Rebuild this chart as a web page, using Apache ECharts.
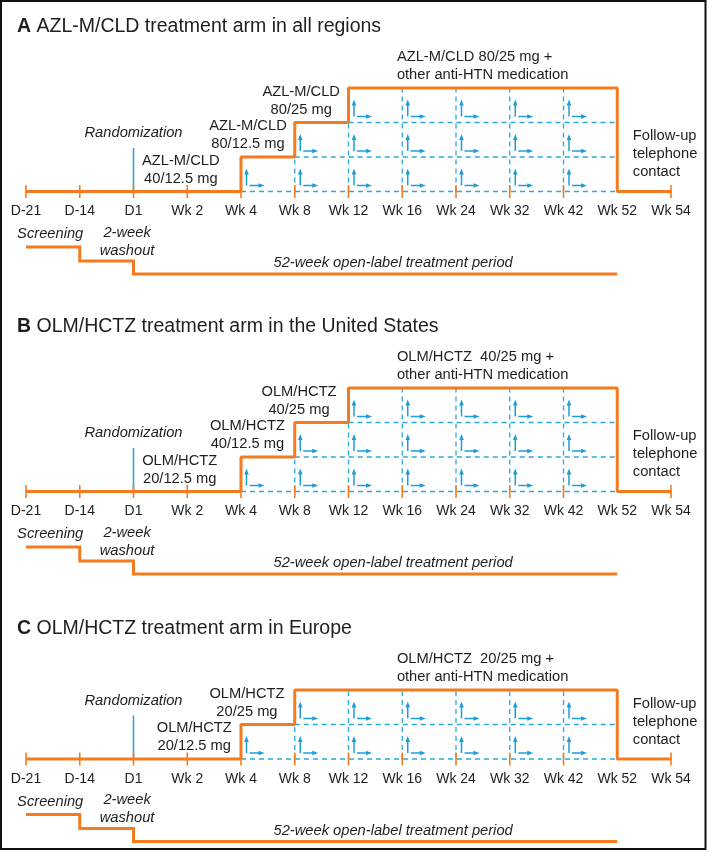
<!DOCTYPE html>
<html>
<head>
<meta charset="utf-8">
<script src="https://cdn.jsdelivr.net/npm/echarts@6/dist/echarts.min.js"></script>
<style>
  html, body { margin: 0; padding: 0; background: #fff; }
  #main { width: 709px; height: 852px; }
</style>
</head>
<body>
<div id="main"></div>
<script>
// timeline visits (x axis categories)
var visits = ['D-21', 'D-14', 'D1', 'Wk 2', 'Wk 4', 'Wk 8', 'Wk 12', 'Wk 16', 'Wk 24', 'Wk 32', 'Wk 42', 'Wk 52', 'Wk 54'];
var randomIdx = 2;    // D1
var endIdx = 11;      // Wk 52 = end of treatment
var periodLabels = ['Screening', '2-week\nwashout', '52-week open-label treatment period'];
var periodBounds = [0, 1, 2, 11];

var panelLetters = ['A', 'B', 'C'];
var panelTitles = [
  'AZL-M/CLD treatment arm in all regions',
  'OLM/HCTZ treatment arm in the United States',
  'OLM/HCTZ treatment arm in Europe'
];

// visit index where the dose is stepped up
var stepsA = [4, 5, 6];
var stepsB = [4, 5, 6];
var stepsC = [4, 5];

var dosesA = ['AZL-M/CLD\n40/12.5 mg', 'AZL-M/CLD\n80/12.5 mg', 'AZL-M/CLD\n80/25 mg', 'AZL-M/CLD 80/25 mg +\nother anti-HTN medication'];
var dosesB = ['OLM/HCTZ\n20/12.5 mg', 'OLM/HCTZ\n40/12.5 mg', 'OLM/HCTZ\n40/25 mg', 'OLM/HCTZ  40/25 mg +\nother anti-HTN medication'];
var dosesC = ['OLM/HCTZ\n20/12.5 mg', 'OLM/HCTZ\n20/25 mg', 'OLM/HCTZ  20/25 mg +\nother anti-HTN medication'];

var followUpLabel = 'Follow-up\ntelephone\ncontact';
var randomLabel = 'Randomization';

var panels = [
  { steps: stepsA, doses: dosesA },
  { steps: stepsB, doses: dosesB },
  { steps: stepsC, doses: dosesC }
];

// ---- layout / style ----
var ORANGE = '#F47B20';
var BLUE = '#2AA9DC';
var ARROW = '#1C9ED8';
var INK = '#1e1e1e';
var FONT = '"Liberation Sans", Arial, Helvetica, sans-serif';
var unit = 34.5;                       // px per dose level
var zeroY = [191.5, 491.5, 759];       // timeline row per panel
var titleTop = [11.5, 311.5, 613.5];
var doseX = [[2.88, 4.13, 5.12, 6.9], [2.86, 4.12, 5.08, 6.9], [3.13, 4.11, 6.9]];
var periodX = [0.45, 1.88, 6.83];

function levelAt(steps, i) {
  if (i >= endIdx) return 0;
  var n = 0;
  steps.forEach(function (s) { if (s <= i) n++; });
  return n;
}

var grids = [], xAxes = [], yAxes = [], titles = [], series = [];

panels.forEach(function (pn, p) {
  var steps = pn.steps;
  var top = steps.length;
  // grid bottom edge = timeline, so the x axis labels sit under it
  grids.push({ left: 26, width: 645, top: zeroY[p] - 4 * unit, height: 4 * unit });
  xAxes.push({
    gridIndex: p, type: 'value', min: 0, max: visits.length - 1, interval: 1,
    axisLine: { show: false },
    axisTick: { show: false }, splitLine: { show: false },
    axisLabel: {
      margin: 13, fontSize: 14, color: INK, fontFamily: FONT,
      formatter: function (v) { return visits[v]; }
    }
  });
  yAxes.push({ gridIndex: p, type: 'value', min: 0, max: 4, show: false });
  titles.push({
    left: 12, top: titleTop[p],
    text: '{b|' + panelLetters[p] + '} ' + panelTitles[p],
    textStyle: {
      fontFamily: FONT, fontSize: 19.5, fontWeight: 'normal', color: INK,
      rich: { b: { fontFamily: FONT, fontSize: 19.5, fontWeight: 'bold', color: INK } }
    }
  });

  // main orange dosing path
  var path = [[0, 0]];
  steps.forEach(function (s, k) { path.push([s, k]); path.push([s, k + 1]); });
  path.push([endIdx, top], [endIdx, 0], [visits.length - 1, 0]);
  series.push({
    type: 'line', xAxisIndex: p, yAxisIndex: p, data: path, symbol: 'none',
    lineStyle: { color: ORANGE, width: 3 }, z: 5, animation: false, clip: false
  });

  // dashed grid: horizontal lines under the titration steps + vertical at visits
  var segs = [];
  for (var l = 0; l < top; l++) segs.push([steps[l], l, endIdx, l]);
  for (var v = steps[0] + 1; v < endIdx; v++) {
    var lb = levelAt(steps, v - 1);
    if (lb > 0) segs.push([v, 0, v, lb]);
  }
  series.push({
    type: 'custom', xAxisIndex: p, yAxisIndex: p, data: segs, z: 3, animation: false,
    renderItem: function (params, api) {
      var a = api.coord([api.value(0), api.value(1)]);
      var b = api.coord([api.value(2), api.value(3)]);
      return {
        type: 'line', shape: { x1: a[0], y1: a[1], x2: b[0], y2: b[1] },
        style: { stroke: BLUE, lineWidth: 1.3, lineDash: [5, 4] }
      };
    }
  });

  // titration arrows in each cell
  var cells = [];
  for (var c = steps[0]; c < endIdx; c++) {
    var lv = levelAt(steps, c);
    for (var k = 0; k < lv; k++) cells.push([c, k]);
  }
  series.push({
    type: 'custom', xAxisIndex: p, yAxisIndex: p, data: cells, z: 4, animation: false,
    renderItem: function (params, api) {
      var o = api.coord([api.value(0), api.value(1)]);
      var x = o[0], y = o[1];
      var st = { stroke: ARROW, lineWidth: 1.5 };
      var fl = { fill: ARROW };
      return {
        type: 'group', children: [
          { type: 'line', shape: { x1: x + 5.5, y1: y - 6, x2: x + 5.5, y2: y - 18 }, style: st },
          { type: 'polygon', shape: { points: [[x + 5.5, y - 23], [x + 3.2, y - 17], [x + 7.8, y - 17]] }, style: fl },
          { type: 'line', shape: { x1: x + 8.5, y1: y - 6, x2: x + 18.5, y2: y - 6 }, style: st },
          { type: 'polygon', shape: { points: [[x + 23.5, y - 6], [x + 17.5, y - 8.3], [x + 17.5, y - 3.7]] }, style: fl }
        ]
      };
    }
  });

  // visit ticks on the timeline
  var ticks = [];
  visits.forEach(function (name, i) { if (i !== endIdx) ticks.push([i, 0]); });
  series.push({
    type: 'custom', xAxisIndex: p, yAxisIndex: p, data: ticks, z: 6, animation: false,
    renderItem: function (params, api) {
      var o = api.coord([api.value(0), api.value(1)]);
      return {
        type: 'line', shape: { x1: o[0], y1: o[1] - 6.5, x2: o[0], y2: o[1] + 6.5 },
        style: { stroke: ORANGE, lineWidth: 1.6 }
      };
    }
  });

  // randomization marker
  series.push({
    type: 'custom', xAxisIndex: p, yAxisIndex: p, data: [[randomIdx, 0]], z: 4, animation: false,
    renderItem: function (params, api) {
      var o = api.coord([api.value(0), api.value(1)]);
      return {
        type: 'line', shape: { x1: o[0], y1: o[1] - 43.5, x2: o[0], y2: o[1] },
        style: { stroke: '#3AA6D6', lineWidth: 1.6 }
      };
    }
  });

  // study period steps under the timeline
  series.push({
    type: 'custom', xAxisIndex: p, yAxisIndex: p, data: [periodBounds], z: 5, animation: false,
    renderItem: function (params, api) {
      var rows = [55.5, 69.5, 82.5];
      var pts = [];
      for (var j = 0; j < 3; j++) {
        var a = api.coord([api.value(j), 0]);
        var b = api.coord([api.value(j + 1), 0]);
        pts.push([a[0], a[1] + rows[j]], [b[0], b[1] + rows[j]]);
      }
      return { type: 'polyline', shape: { points: pts }, style: { stroke: ORANGE, lineWidth: 3, fill: null } };
    }
  });

  // text annotations
  var texts = [];
  pn.doses.forEach(function (d, k) {
    var last = k === pn.doses.length - 1;
    texts.push({ x: doseX[p][k], l: k, dy: -22, text: d, align: last ? 'left' : 'center' });
  });
  texts.push({ x: randomIdx, l: 0, dy: -58.5, text: randomLabel, align: 'center', italic: true });
  texts.push({ x: 11.29, l: 0, dy: -37.5, text: followUpLabel, align: 'left' });
  texts.push({ x: periodX[0], l: 0, dy: 42.5, text: periodLabels[0], align: 'center', italic: true });
  texts.push({ x: periodX[1], l: 0, dy: 50, text: periodLabels[1], align: 'center', italic: true });
  texts.push({ x: periodX[2], l: 0, dy: 71.5, text: periodLabels[2], align: 'center', italic: true });
  series.push({
    type: 'custom', xAxisIndex: p, yAxisIndex: p, z: 7, animation: false,
    data: texts.map(function (t) { return [t.x, t.l]; }),
    renderItem: function (params, api) {
      var t = texts[params.dataIndex];
      var o = api.coord([api.value(0), api.value(1)]);
      return {
        type: 'text', x: o[0], y: o[1] + t.dy,
        style: {
          text: t.text, fill: INK, fontFamily: FONT, fontSize: 14.7,
          fontStyle: t.italic ? 'italic' : 'normal',
          align: t.align, verticalAlign: 'middle', lineHeight: 18
        }
      };
    }
  });
});

var chart = echarts.init(document.getElementById('main'));
chart.setOption({
  animation: false,
  backgroundColor: '#fff',
  title: titles,
  grid: grids,
  xAxis: xAxes,
  yAxis: yAxes,
  series: series,
  graphic: [{
    type: 'rect', z: 100,
    shape: { x: 1, y: 1, width: 704.5, height: 848 },
    style: { fill: 'none', stroke: '#111', lineWidth: 2 }
  }]
});
</script>
</body>
</html>
